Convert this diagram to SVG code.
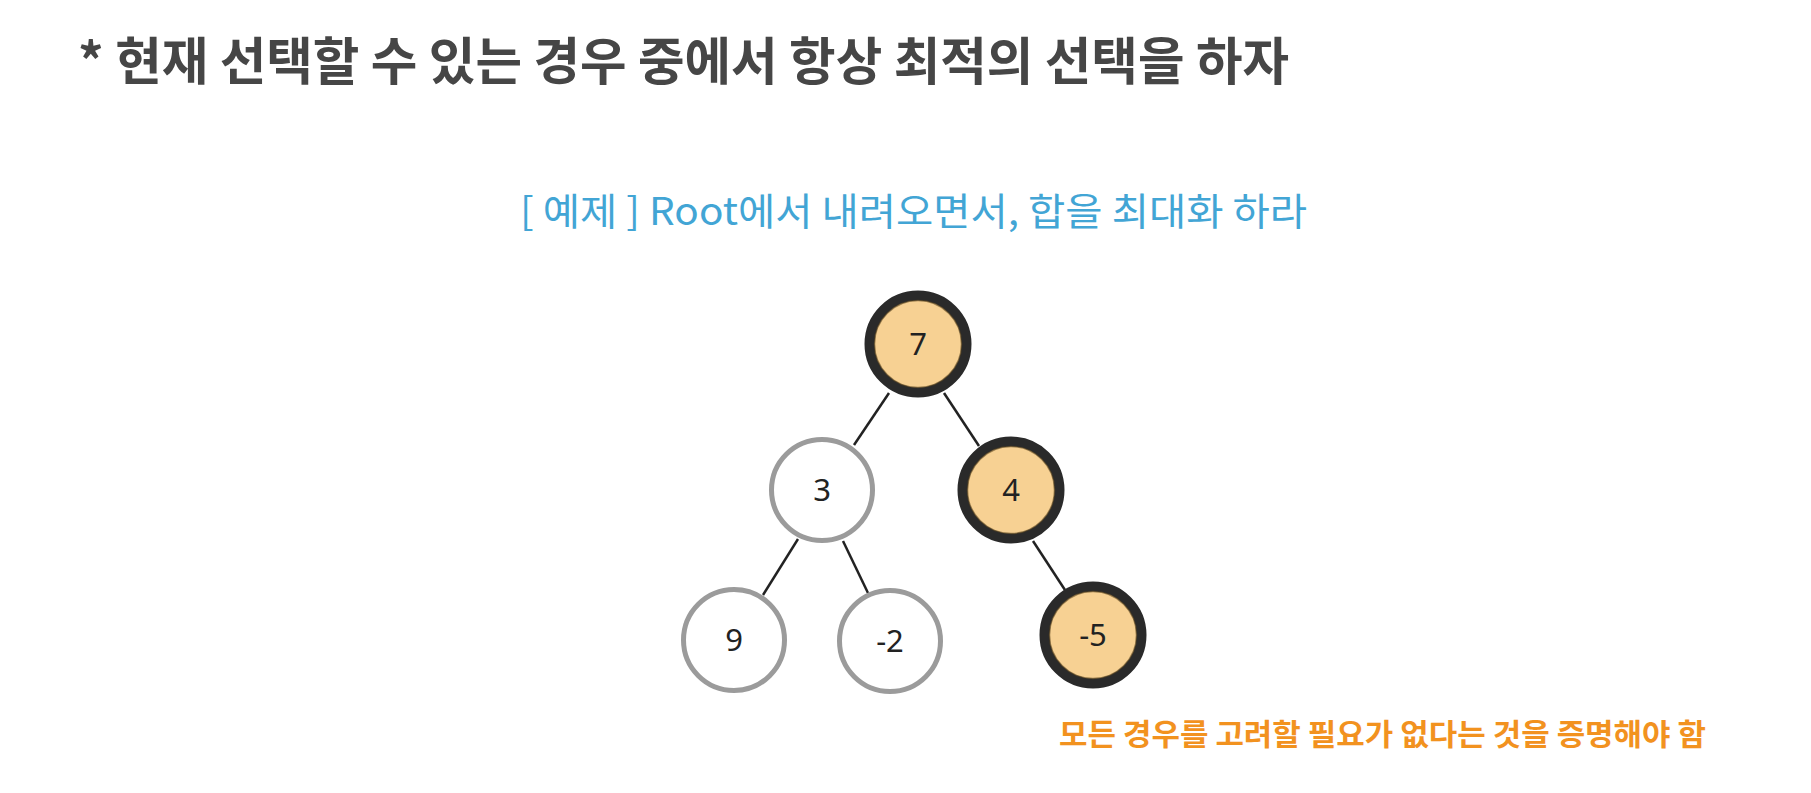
<svg xmlns="http://www.w3.org/2000/svg" width="1811" height="793" viewBox="0 0 1811 793">
  <style>
    .title { font-family: "Noto Sans CJK KR", "Noto Sans", sans-serif; font-weight: 700; font-size: 51px; fill: #464646; }
    .sub { font-family: "Noto Sans CJK KR", "Noto Sans", sans-serif; font-weight: 400; font-size: 38px; fill: #42a5d5; }
    .note { font-family: "Noto Sans CJK KR", "Noto Sans", sans-serif; font-weight: 700; font-size: 30px; fill: #f2921f; }
    .sel { fill: #f7d193; stroke: #2a2a2a; stroke-width: 10; }
    .selin { fill: none; stroke: #5c4620; stroke-width: 1.5; opacity: 0.6; }
    .unsel { fill: #ffffff; stroke: #9b9b9b; stroke-width: 5; }
    .lbl { font-family: "Noto Sans", "Open Sans", sans-serif; font-size: 31px; fill: #222222; text-anchor: middle; }
    .edge { stroke: #222222; stroke-width: 2.5; fill: none; }
  </style>
  <rect width="1811" height="793" fill="#ffffff"/>
  <text class="title" x="78" y="80" textLength="1211" lengthAdjust="spacingAndGlyphs">* 현재 선택할 수 있는 경우 중에서 항상 최적의 선택을 하자</text>
  <text class="sub" x="520" y="225" textLength="787" lengthAdjust="spacingAndGlyphs">[ 예제 ] Root에서 내려오면서, 합을 최대화 하라</text>
  <g id="connectors">
    <line class="edge" x1="889" y1="393" x2="854" y2="445"/>
    <line class="edge" x1="944" y1="393" x2="979" y2="446"/>
    <line class="edge" x1="798" y1="539" x2="763" y2="595"/>
    <line class="edge" x1="843" y1="541" x2="868" y2="593"/>
    <line class="edge" x1="1033" y1="541" x2="1065" y2="590"/>
  </g>
  <g id="node-7">
    <circle class="sel" cx="918" cy="344" r="48.5"/>
    <circle class="selin" cx="918" cy="344" r="43.5"/>
    <text class="lbl" x="918" y="355">7</text>
  </g>
  <g id="node-3">
    <circle class="unsel" cx="822" cy="490" r="50.5"/>
    <text class="lbl" x="822" y="501">3</text>
  </g>
  <g id="node-4">
    <circle class="sel" cx="1011" cy="490" r="48.5"/>
    <circle class="selin" cx="1011" cy="490" r="43.5"/>
    <text class="lbl" x="1011" y="501">4</text>
  </g>
  <g id="node-9">
    <circle class="unsel" cx="734" cy="640" r="50.5"/>
    <text class="lbl" x="734" y="651">9</text>
  </g>
  <g id="node-neg2">
    <circle class="unsel" cx="890" cy="641" r="50.5"/>
    <text class="lbl" x="890" y="652">-2</text>
  </g>
  <g id="node-neg5">
    <circle class="sel" cx="1093" cy="635" r="48.5"/>
    <circle class="selin" cx="1093" cy="635" r="43.5"/>
    <text class="lbl" x="1093" y="646">-5</text>
  </g>
  <text class="note" x="1059" y="745" textLength="647" lengthAdjust="spacingAndGlyphs">모든 경우를 고려할 필요가 없다는 것을 증명해야 함</text>
</svg>
